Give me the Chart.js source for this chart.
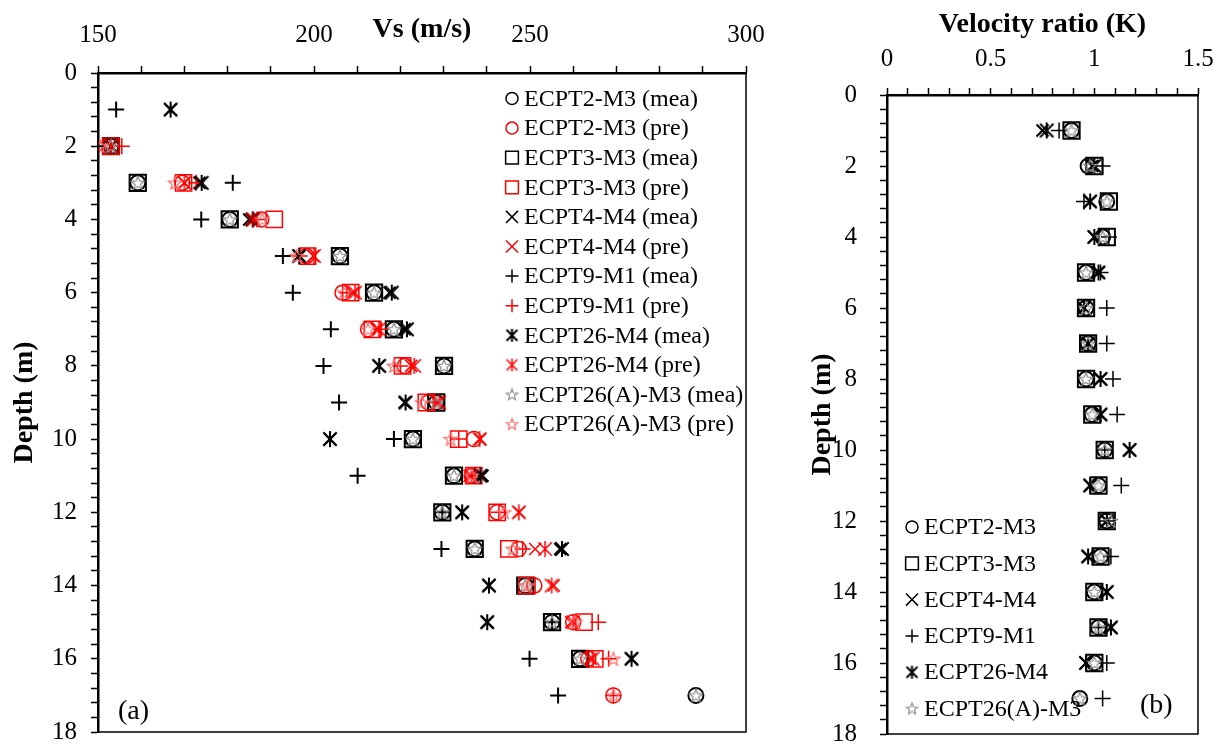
<!DOCTYPE html>
<html lang="en">
<head>
<meta charset="UTF-8">
<title>Vs profiles and velocity ratio</title>
<script src="https://cdn.jsdelivr.net/npm/chart.js"></script>
<style>
  html, body { margin: 0; padding: 0; background: #fff; overflow: hidden; }
  #wrap { position: relative; width: 1225px; height: 745px; overflow: hidden; }
  #chartA { position: absolute; left: 0; top: 0; }
  #chartB { position: absolute; left: 790px; top: 0; }
</style>
</head>
<body>
<div id="wrap">
  <canvas id="chartA" width="790" height="780"></canvas>
  <canvas id="chartB" width="445" height="780"></canvas>
</div>
<script>
// depths (m)
const depth = [1, 2, 3, 4, 5, 6, 7, 8, 9, 10, 11, 12, 13, 14, 15, 16, 17];

// Vs (m/s), measured (mea) and predicted (pre); null = not plotted
const ecpt2Mea   = [null, 153, 159.2, 180.5, 206, 213.9, 218.5, 230.1, 228.3, 222.9, 232.4, 229.7, 237.2, 248.9, 255.1, 261.6, 288.4];
const ecpt2Pre   = [null, 148.5, 169.5, 187.8, 198.2, 206.6, 212.5, 221, 226.5, 237, 236.5, 242.4, 247.4, 251, 260, 263.5, 269.3];
const ecpt3Mea   = [null, 153, 159.2, 180.5, 206, 213.9, 218.5, 230.1, 228.3, 222.9, 232.4, 229.7, 237.2, 248.9, 255.1, 261.6, null];
const ecpt3Pre   = [null, 153, 169.8, 190.8, 198.5, 208.5, 213.5, 220.5, 226, 233.5, 237, 242.4, 245.1, 249.3, 262.5, 265, null];
const ecpt4Mea   = [166.8, 153, 173.5, 185, 196.5, 217.5, 221, 215, 221, 203.7, 239, 234.3, 257, 240.5, 240.1, 273.5, null];
const ecpt4Pre   = [null, 151.5, 170, 185.5, 199.8, 209, 214.5, 222.5, 228.5, 238.5, 236, 247.5, 251.2, 255.5, 259.5, 264, null];
const ecpt9Mea   = [154.2, 149.5, 181.2, 173.9, 192.8, 195.1, 203.9, 202.2, 205.8, 218.5, 210.1, 229.7, 229.5, null, 255.1, 249.9, 256.5];
const ecpt9Pre   = [null, 155.5, 172.7, 186.8, 196.7, 207.6, 215.5, 220, 227.6, 233.5, 237.4, 242.8, 248.3, null, 265.8, 268.2, 269.3];
const ecpt26Mea  = [166.8, 153, 174, 185.8, 196.6, 218, 221.5, 215.1, 221.2, 203.7, 238.5, 234.3, 257.4, 240.5, 240.1, 273.5, null];
const ecpt26Pre  = [null, 153, 170, 186, 200, 209.5, 215, 223.2, 229, 238.3, 236.5, 247.4, 253.5, 255, 260, 264.5, null];
const ecpt26aMea = [null, 153, 159.2, 180.5, 206, 213.9, 218.5, 230.1, 228.3, 222.9, 232.4, 229.7, 237.2, 248.9, 255.1, 261.6, 288.4];
const ecpt26aPre = [null, 150.5, 167.8, 188, 196, 207, 212.5, 218.5, 225, 231.6, 236.5, 244, 246, 249.5, 260.5, 269.3, 269.3];

// velocity ratio K (pre / mea)
const kEcpt2   = [0.89, 0.97, 1.06, 1.04, 0.96, 0.96, 0.97, 0.96, 0.99, 1.05, 1.02, 1.06, 1.03, 1.0, 1.02, 1.0, 0.93];
const kEcpt3   = [0.89, 1.0, 1.07, 1.06, 0.96, 0.96, 0.97, 0.96, 0.99, 1.05, 1.02, 1.06, 1.03, 1.0, 1.02, 1.0, null];
const kEcpt4   = [0.75, 0.99, 0.98, 1.0, 1.02, 0.95, 0.97, 1.03, 1.03, 1.17, 0.98, 1.06, 0.97, 1.06, 1.08, 0.96, null];
const kEcpt9   = [0.83, 1.04, 0.95, 1.07, 1.03, 1.06, 1.06, 1.09, 1.11, 1.05, 1.13, 1.06, 1.08, null, 1.02, 1.06, 1.04];
const kEcpt26  = [0.77, 1.0, 0.98, 1.0, 1.02, 0.95, 0.97, 1.03, 1.03, 1.17, 0.98, 1.06, 0.97, 1.06, 1.08, 0.96, null];
const kEcpt26a = [0.89, 0.98, 1.06, 1.04, 0.96, 0.96, 0.97, 0.96, 0.99, 1.05, 1.02, 1.08, 1.03, 1.0, 1.02, 1.0, 0.93];

const FONT = "'Liberation Serif', 'Times New Roman', serif";
const BLACK = '#000000', RED = '#ff0000', GREY = '#8c8c8c', PINK = '#ff6a6a';
const TICK_SIZE = 25, TITLE_SIZE = 28;

// custom markers: 5-point star and excel-like asterisk
function starMarker(size, color, lw) {
  const c = document.createElement('canvas');
  const s = Math.ceil(size + 4);
  c.width = s; c.height = s;
  const g = c.getContext('2d');
  const R = size / 2, r = R * 0.42, cx = s / 2, cy = s / 2 + R * 0.08;
  g.strokeStyle = color; g.lineWidth = lw;
  g.beginPath();
  for (let i = 0; i < 10; i++) {
    const a = -Math.PI / 2 + i * Math.PI / 5;
    const rr = i % 2 ? r : R;
    g.lineTo(cx + rr * Math.cos(a), cy + rr * Math.sin(a));
  }
  g.closePath();
  g.stroke();
  return c;
}

function asteriskMarker(size, color, lw) {
  const c = document.createElement('canvas');
  const s = Math.ceil(size + 4);
  c.width = s; c.height = s;
  const g = c.getContext('2d');
  const h = size / 2, w = size * 0.42, cx = s / 2, cy = s / 2;
  g.strokeStyle = color; g.lineWidth = lw;
  g.beginPath();
  g.moveTo(cx - w, cy - w); g.lineTo(cx + w, cy + w);
  g.moveTo(cx + w, cy - w); g.lineTo(cx - w, cy + w);
  g.moveTo(cx, cy - h); g.lineTo(cx, cy + h);
  g.stroke();
  return c;
}

// marker sets: plot size and legend size
function markers(color, lw, starColor) {
  return {
    circle: { plot: { pointStyle: 'circle', r: 7.5 },   leg: { pointStyle: 'circle', r: 6 } },
    rect:   { plot: { pointStyle: 'rect', r: 11.5 },    leg: { pointStyle: 'rect', r: 9 } },
    x:      { plot: { pointStyle: 'crossRot', r: 8.5 }, leg: { pointStyle: 'crossRot', r: 8.5 } },
    plus:   { plot: { pointStyle: 'cross', r: 8 },      leg: { pointStyle: 'cross', r: 6.5 } },
    aster:  { plot: { pointStyle: asteriskMarker(16, color, lw), r: 8 }, leg: { pointStyle: asteriskMarker(13, color, lw), r: 6 } },
    star:   { plot: { pointStyle: starMarker(14, starColor, 1.2), r: 7 }, leg: { pointStyle: starMarker(12, starColor, 1.1), r: 6 } }
  };
}
const mBlack = markers(BLACK, 2, GREY);
const mRed = markers(RED, 1.5, PINK);

function toPoints(vals) {
  const pts = [];
  vals.forEach((v, i) => { if (v !== null) pts.push({ x: v, y: depth[i] }); });
  return pts;
}

function makeSet(label, vals, mk, color, lw) {
  return {
    label: label,
    data: toPoints(vals),
    pointStyle: mk.plot.pointStyle,
    pointRadius: mk.plot.r,
    borderColor: color,
    backgroundColor: 'rgba(0,0,0,0)',
    borderWidth: lw,
    showLine: false,
    legMarker: mk.leg
  };
}

const setsA = [
  makeSet('ECPT2-M3 (mea)', ecpt2Mea, mBlack.circle, BLACK, 2),
  makeSet('ECPT2-M3 (pre)', ecpt2Pre, mRed.circle, RED, 1.5),
  makeSet('ECPT3-M3 (mea)', ecpt3Mea, mBlack.rect, BLACK, 2),
  makeSet('ECPT3-M3 (pre)', ecpt3Pre, mRed.rect, RED, 1.5),
  makeSet('ECPT4-M4 (mea)', ecpt4Mea, mBlack.x, BLACK, 2),
  makeSet('ECPT4-M4 (pre)', ecpt4Pre, mRed.x, RED, 1.5),
  makeSet('ECPT9-M1 (mea)', ecpt9Mea, mBlack.plus, BLACK, 2),
  makeSet('ECPT9-M1 (pre)', ecpt9Pre, mRed.plus, RED, 1.5),
  makeSet('ECPT26-M4 (mea)', ecpt26Mea, mBlack.aster, BLACK, 2),
  makeSet('ECPT26-M4 (pre)', ecpt26Pre, mRed.aster, RED, 1.5),
  makeSet('ECPT26(A)-M3 (mea)', ecpt26aMea, mBlack.star, GREY, 1.2),
  makeSet('ECPT26(A)-M3 (pre)', ecpt26aPre, mRed.star, PINK, 1.2)
];
setsA.forEach((d, i) => { d.order = setsA.length - i; });

const setsB = [
  makeSet('ECPT2-M3', kEcpt2, mBlack.circle, BLACK, 2),
  makeSet('ECPT3-M3', kEcpt3, mBlack.rect, BLACK, 2),
  makeSet('ECPT4-M4', kEcpt4, mBlack.x, BLACK, 2),
  makeSet('ECPT9-M1', kEcpt9, mBlack.plus, BLACK, 1.5),
  makeSet('ECPT26-M4', kEcpt26, mBlack.aster, BLACK, 2),
  makeSet('ECPT26(A)-M3', kEcpt26a, mBlack.star, GREY, 1.2)
];
setsB.forEach((d, i) => { d.order = setsB.length - i; });

// frame, legend and panel letter
function panelPlugin(opts) {
  return {
    id: 'panel' + opts.tag,
    afterDraw(chart) {
      const ctx = chart.ctx, a = chart.chartArea;
      ctx.save();
      ctx.strokeStyle = '#000';
      ctx.lineWidth = 1.5;
      ctx.strokeRect(a.left, a.top, a.right - a.left, a.bottom - a.top);

      ctx.font = '24px ' + FONT;
      ctx.textBaseline = 'middle';
      ctx.textAlign = 'left';
      chart.data.datasets.forEach((ds, i) => {
        const y = opts.legY + i * opts.legDy;
        const m = ds.legMarker;
        ctx.strokeStyle = ds.borderColor;
        ctx.fillStyle = 'rgba(0,0,0,0)';
        Chart.helpers.drawPoint(ctx, {
          pointStyle: m.pointStyle, radius: m.r, rotation: 0,
          borderWidth: Math.min(ds.borderWidth, 1.6)
        }, opts.legX, y);
        ctx.fillStyle = '#000';
        ctx.fillText(ds.label, opts.legX + 12, y + 1);
      });

      ctx.font = '28px ' + FONT;
      ctx.fillStyle = '#000';
      ctx.fillText(opts.tag, a.left + opts.tagDx, a.bottom - opts.tagDy);
      ctx.restore();
    }
  };
}

function depthAxis(width, pad, titlePad) {
  return {
    type: 'linear', reverse: true, min: 0, max: 18,
    ticks: {
      stepSize: 0.4, autoSkip: false, padding: pad, color: '#000',
      font: { family: FONT, size: TICK_SIZE },
      callback: v => (Math.abs(v / 2 - Math.round(v / 2)) < 1e-6 ? String(Math.round(v)) : '')
    },
    grid: { drawOnChartArea: false, tickLength: 7, tickColor: '#000', tickWidth: 1.5 },
    border: { color: '#000', width: 2.5 },
    title: {
      display: true, text: 'Depth (m)', color: '#000',
      font: { family: FONT, size: TITLE_SIZE, weight: 'bold' },
      padding: { top: titlePad, bottom: 0 }
    },
    afterFit: s => { s.width = width; }
  };
}

// panel (a): chart area 98..746 x 73..732
const chartA = new Chart(document.getElementById('chartA'), {
  type: 'scatter',
  data: { datasets: setsA },
  options: {
    responsive: false, animation: false, events: [],
    layout: { padding: { left: 0, top: 0, right: 44, bottom: 48 } },
    plugins: { legend: { display: false }, tooltip: { enabled: false } },
    scales: {
      x: {
        type: 'linear', position: 'top', min: 150, max: 300,
        ticks: {
          stepSize: 10, autoSkip: false, maxRotation: 0, padding: 16, color: '#000',
          font: { family: FONT, size: TICK_SIZE },
          callback: v => (v % 50 === 0 ? String(v) : '')
        },
        grid: { drawOnChartArea: false, tickLength: 7, tickColor: '#000', tickWidth: 1.5 },
        border: { color: '#000', width: 2.5 },
        title: {
          display: true, text: 'Vs (m/s)', color: '#000',
          font: { family: FONT, size: TITLE_SIZE, weight: 'bold' },
          padding: { top: 13, bottom: 0 }
        },
        afterFit: s => { s.height = 73; }
      },
      y: depthAxis(98, 14, 8)
    }
  },
  plugins: [panelPlugin({ tag: '(a)', legX: 512, legY: 98.5, legDy: 29.6, tagDx: 20, tagDy: 20 })]
});

// panel (b): chart area 887..1198 x 95..734 (canvas offset 790)
const chartB = new Chart(document.getElementById('chartB'), {
  type: 'scatter',
  data: { datasets: setsB },
  options: {
    responsive: false, animation: false, events: [],
    layout: { padding: { left: 0, top: 0, right: 37, bottom: 46 } },
    plugins: { legend: { display: false }, tooltip: { enabled: false } },
    scales: {
      x: {
        type: 'linear', position: 'top', min: 0, max: 1.5,
        ticks: {
          stepSize: 0.1, autoSkip: false, maxRotation: 0, padding: 14, color: '#000',
          font: { family: FONT, size: TICK_SIZE },
          callback: v => (Math.abs(v * 2 - Math.round(v * 2)) < 1e-6 ? String(Math.round(v * 2) / 2) : '')
        },
        grid: { drawOnChartArea: false, tickLength: 7, tickColor: '#000', tickWidth: 1.5 },
        border: { color: '#000', width: 2.5 },
        title: {
          display: true, text: 'Velocity ratio (K)', color: '#000',
          font: { family: FONT, size: TITLE_SIZE, weight: 'bold' },
          padding: { top: 8, bottom: 0 }
        },
        afterFit: s => { s.height = 95; }
      },
      y: depthAxis(97, 23, 16)
    }
  },
  plugins: [panelPlugin({ tag: '(b)', legX: 122, legY: 527, legDy: 36.3, tagDx: 253, tagDy: 28 })]
});
</script>
</body>
</html>
